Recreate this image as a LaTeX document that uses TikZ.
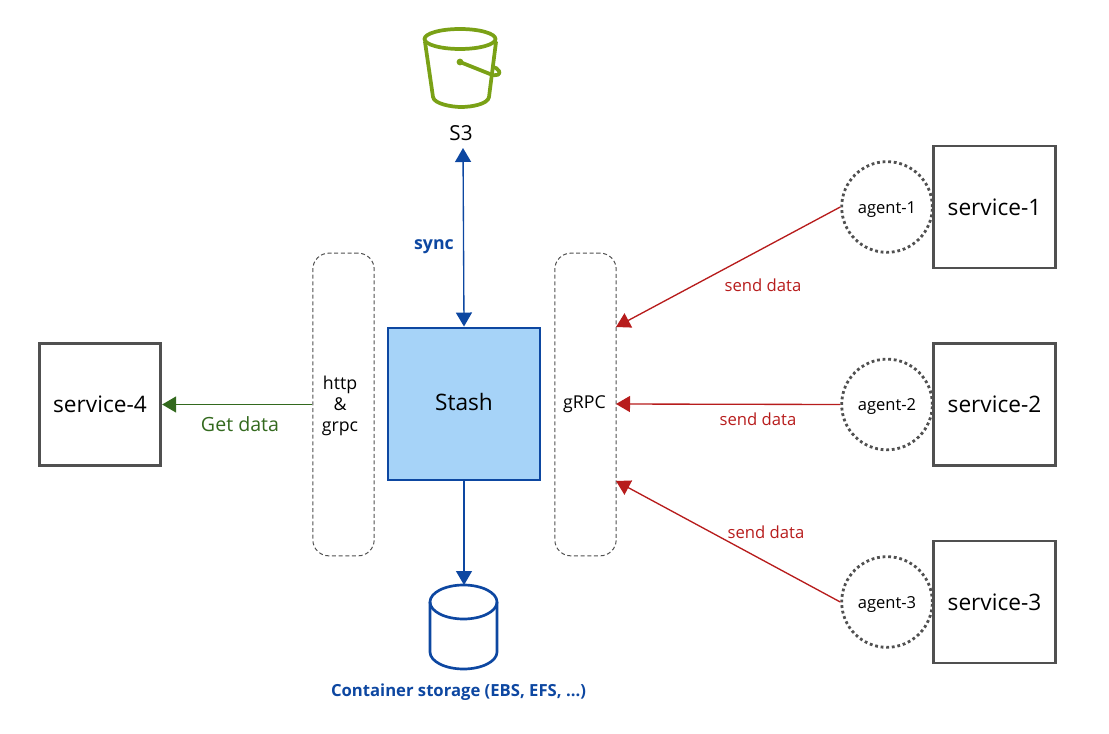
\documentclass[tikz,border=0pt]{standalone}
\usepackage{fontspec}
\setmainfont{Open Sans}
\usetikzlibrary{arrows.meta,positioning}
\definecolor{boxgray}{HTML}{505050}
\definecolor{stashblue}{HTML}{0D47A1}
\definecolor{stashfill}{HTML}{A6D3F8}
\definecolor{bucketgreen}{HTML}{7AA116}
\definecolor{sendred}{HTML}{B71C1C}
\definecolor{getgreen}{HTML}{33691E}
\tikzset{
  headtip/.tip={Triangle[length=10.5pt,width=12pt]},
  servicebox/.style={draw=boxgray,line width=2.2pt,minimum width=91pt,minimum height=91.5pt,inner sep=0pt,font=\fontsize{17}{20}\selectfont},
  agentnode/.style={circle,draw=boxgray,line width=2.1pt,dash pattern=on 2.1pt off 2.1pt,minimum size=68pt,inner sep=0pt,text height=12pt,font=\fontsize{12.4}{14}\selectfont},
  gatebox/.style={draw=boxgray,densely dashed,line width=0.75pt,rounded corners=12pt,minimum width=46pt,minimum height=227pt,inner sep=0pt},
  gatelabel/.style={align=center,font=\fontsize{13.3}{16}\selectfont},
  bluearrow/.style={draw=stashblue,line width=1pt,-headtip},
  redarrow/.style={draw=sendred,line width=1pt,-headtip},
  sendlabel/.style={text=sendred,font=\fontsize{12.5}{14}\selectfont}
}
\begin{document}
\begin{tikzpicture}[x=0.75pt,y=-0.75pt]
\useasboundingbox (0,0) rectangle (1109,734);

\node[draw=stashblue,fill=stashfill,line width=2.2pt,minimum size=114pt,inner sep=0pt,text depth=3pt,font=\fontsize{17}{20}\selectfont](stash) at (464,404){Stash};
\node[gatebox](http) at (343.5,404.5){};
\node[gatebox](grpc) at (585.5,404.5){};
\node[gatelabel](httplabel) at (340,406){http\\\&\\grpc};
\node[gatelabel](grpclabel) at (584.5,404){gRPC};
\node[servicebox](svc4) at (100,404.5){service-4};

\foreach \i/\y in {1/207,2/404.5,3/602}{
  \node[servicebox](svc\i) at (994.5,\y){service-\i};
  \node[agentnode](agent\i) at (887,\y){agent-\i};
}

\coordinate (grpcin1) at (616,327);
\coordinate (grpcin2) at (616,404);
\coordinate (grpcin3) at (616,481);

\draw[redarrow] (agent1.west) -- (grpcin1);
\draw[redarrow] (agent2.west) -- (grpcin2);
\draw[redarrow] (agent3.west) -- (grpcin3);
\node[sendlabel](send1) at (763,285){send data};
\node[sendlabel](send2) at (758,419){send data};
\node[sendlabel](send3) at (766,532){send data};

\draw[draw=getgreen,line width=1pt,-headtip] (http.west |- svc4.east) -- (svc4.east);
\node[text=getgreen,font=\fontsize{14.7}{16}\selectfont](getlabel) at (240,424){Get data};

% s3 bucket
\begin{scope}[draw=bucketgreen,line width=2.8pt,line cap=round,line join=round]
\draw (460,39) ellipse [x radius=35.5,y radius=10];
\draw (425,42) -- (433,97) .. controls (434,104) and (452,107) .. (461,107) .. controls (472,107) and (488,104) .. (489,97) -- (496,42);
\draw (460,62) -- (490,74) .. controls (497,77) and (501,74) .. (499,71) .. controls (498,69) and (495,67) .. (493,67);
\fill[bucketgreen] (460,62) circle (3.4);
\end{scope}
\node[font=\fontsize{15.5}{18}\selectfont](s3) at (461,133){S3};
\coordinate (s3port) at (463,148);
\draw[bluearrow,headtip-headtip] (s3port) -- (stash.north);
\node[text=stashblue,font=\bfseries\fontsize{13.3}{16}\selectfont](synclabel) at (434,247){sync};

% storage
\node[inner sep=0pt,outer sep=0pt,minimum width=50pt,minimum height=63pt](storage) at (463.5,627){};
\begin{scope}[draw=stashblue,line width=2pt]
\draw (463.5,602) ellipse [x radius=33.5,y radius=17];
\draw (430,602) -- (430,652) arc [start angle=180,end angle=360,x radius=33.5,y radius=-17] -- (497,602);
\end{scope}
\draw[bluearrow] (stash.south) -- (stash.south |- storage.north);
\node[text=stashblue,font=\bfseries\fontsize{12.5}{15}\selectfont](storagelabel) at (458.5,692){Container storage (EBS, EFS, ...)};
\end{tikzpicture}
\end{document}
